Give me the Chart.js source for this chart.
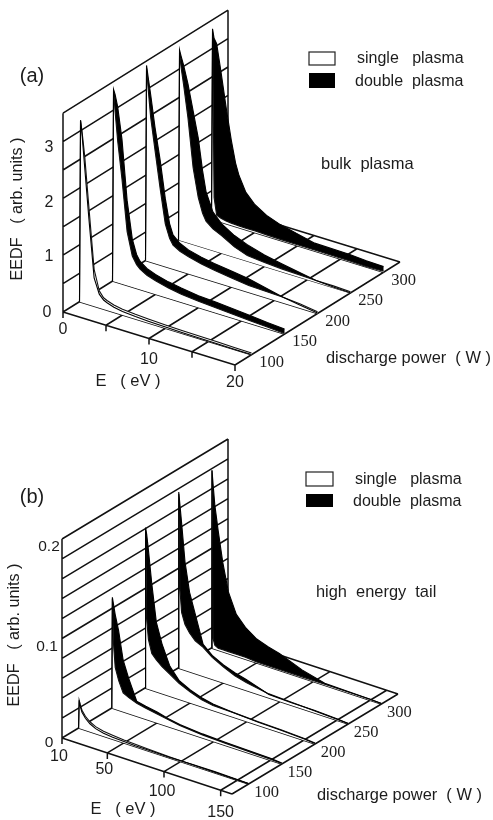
<!DOCTYPE html>
<html><head><meta charset="utf-8">
<style>html,body{margin:0;padding:0;background:#fff}canvas{display:block}</style>
<script src="https://cdn.jsdelivr.net/npm/chart.js@4"></script>
</head><body><canvas id="c" width="493" height="820"></canvas>
<script>
// ---------- data: panel (a) bulk plasma ----------
const powers=[100,150,200,250,300];
const energyA=[0,.12,.3,.6,1.1,1.7,2.3,2.8,3.2,4,5,6.5,8,10,12,16,18,20];
const singleA100=[0,3.2,3.0,2.6,1.7,.65,.3,.2,.17,.13,.1,.082,.07,.058,.05,.04,.035,.03];
const doubleA100=[0,3.2,2.95,2.4,1.5,.5,.24,.16,.13,.09,.06,.042,.03,.02,.012,.005,.003,.002];
const singleA150=[0,3.36,3.0,2.5,1.85,.95,.55,.42,.36,.29,.24,.18,.14,.11,.09,.05,.03,.01];
const doubleA150=[0,3.38,3.3,3.1,2.55,1.5,.85,.6,.5,.41,.35,.29,.25,.21,.19,.14,.11,.09];
const singleA200=[0,3.4,3.05,2.55,2.0,1.35,.75,.52,.42,.35,.3,.24,.2,.16,.12,.1,.075,.03];
const doubleA200=[0,3.44,3.25,2.95,2.4,1.85,1.2,.78,.6,.49,.42,.36,.32,.28,.24,.1,.05,.01];
const singleA250=[0,3.3,3.05,2.75,2.2,1.35,.85,.6,.48,.38,.31,.18,.1,.07,.05,.03,.03,.02];
const doubleA250=[0,3.35,3.25,3.1,2.8,2.35,1.9,1.35,1.0,.68,.52,.38,.29,.2,.14,.03,.01,.003];
const singleA300=[0,3.33,.4,.1,.07,.05,.04,.035,.03,.03,.03,.025,.02,.02,.02,.015,.01,.02];
const doubleA300=[0,3.36,3.2,3.12,2.65,2.05,1.5,1.12,.92,.66,.5,.36,.28,.21,.14,.13,.11,.1];
// ---------- data: panel (b) high energy tail ----------
const energyB=[10,10.5,11.5,13,16,20,25,32,40,50,60,70,90,110,130,150,160];
const singleB100=[0,.028,.024,.019,.014,.010,.007,.005,.004,.003,.0025,.002,.0012,.0008,.0005,.0003,.0002];
const doubleB100=[0,.028,.022,.017,.012,.008,.005,.003,.002,.0015,.001,.0008,.0006,.001,.0012,.0008,.0004];
const singleB150=[0,.11,.065,.042,.03,.019,.016,.013,.011,.009,.007,.005,.003,.002,.0015,.001,.0005];
const doubleB150=[0,.1115,.105,.095,.08,.052,.035,.015,.013,.011,.008,.006,.004,.003,.0025,.002,.001];
const singleB200=[0,.16,.07,.05,.037,.032,.027,.022,.016,.011,.007,.005,.0045,.0035,.003,.002,.001];
const doubleB200=[0,.1615,.155,.14,.107,.07,.05,.03,.019,.013,.009,.0065,.0045,.003,.0025,.0015,.0005];
const singleB250=[0,.175,.08,.057,.046,.039,.033,.029,.022,.016,.011,.008,.004,.003,.002,.001,.0005];
const doubleB250=[0,.177,.165,.147,.109,.08,.06,.032,.024,.018,.014,.011,.0035,.0025,.0025,.0015,.0005];
const singleB300=[0,.178,.01,.004,.002,.002,.002,.002,.002,.001,.001,.001,.001,.001,.001,.001,.0005];
const doubleB300=[0,.179,.165,.145,.12,.09,.062,.042,.032,.024,.02,.017,.008,.002,.0015,.001,.0005];
// ---------- tick labels ----------
const eTicksA=[0,10,20], eGridA=[5,10,15], eMarksA=[0,5,10,15,20];
const fTicksA=[0,1,2,3], fGridA=[0,.5,1,1.5,2,2.5,3,3.5];
const eTicksB=[10,50,100,150], eGridB=[50,100,150,160], eMarksB=[10,50,100,150];
const fTicksB=['0','0.1','0.2'], fGridB=[0,.02,.04,.06,.08,.1,.12,.14,.16,.18,.2];
const legendLabels=['single   plasma','double  plasma'];

// ---------- 3-D projection of each panel onto the page scale ----------
const panelA={x0:63,y0:312,Emin:0,Emax:20,Pmin:75,Pmax:325,exE:172/20,eyE:53/20,exP:165/250,eyP:-103/250,v:56.8,
  series:[[singleA100,doubleA100],[singleA150,doubleA150],[singleA200,doubleA200],[singleA250,doubleA250],[singleA300,doubleA300]],
  energy:energyA,eGrid:eGridA,eMarks:eMarksA,fGrid:fGridA};
const panelB={x0:62,y0:738,Emin:10,Emax:160,Pmin:75,Pmax:325,exE:170/150,eyE:56/150,exP:166/250,eyP:-100/250,v:995,
  series:[[singleB100,doubleB100],[singleB150,doubleB150],[singleB200,doubleB200],[singleB250,doubleB250],[singleB300,doubleB300]],
  energy:energyB,eGrid:eGridB,eMarks:eMarksB,fGrid:fGridB};
function pr(p,E,P,f){return {x:p.x0+p.exE*(E-p.Emin)+p.exP*(P-p.Pmin),y:p.y0+p.eyE*(E-p.Emin)+p.eyP*(P-p.Pmin)-p.v*f};}

const INK='#111';
const gap={x:NaN,y:NaN};
function gridPoints(p){
  const a=[];
  const seg=(u,v)=>{a.push(u,v,gap);};
  for(const f of p.fGrid) seg(pr(p,p.Emin,p.Pmin,f),pr(p,p.Emin,p.Pmax,f));
  const top=p.fGrid[p.fGrid.length-1];
  seg(pr(p,p.Emin,p.Pmin,0),pr(p,p.Emin,p.Pmin,top));
  seg(pr(p,p.Emin,p.Pmax,0),pr(p,p.Emin,p.Pmax,top));
  for(const P of [p.Pmin,...powers,p.Pmax]) seg(pr(p,p.Emin,P,0),pr(p,p.Emax,P,0));
  for(const E of [...p.eGrid,p.Emax]) seg(pr(p,E,p.Pmin,0),pr(p,E,p.Pmax,0));
  for(const E of p.eMarks){const b=pr(p,E,p.Pmin,0);seg(b,{x:b.x,y:b.y+6});}
  return a;
}
function curveDatasets(p){
  const out=[];
  for(let k=powers.length-1;k>=0;k--){
    const P=powers[k],[s,d]=p.series[k],En=p.energy;
    const upper=En.map((E,i)=>pr(p,E,P,Math.max(s[i],d[i])));
    const floor=[pr(p,p.Emax,P,0),pr(p,p.Emin,P,0)];
    const lowerS=En.map((E,i)=>pr(p,E,P,s[i]));
    const lowerD=En.map((E,i)=>pr(p,E,P,d[i]));
    out.push({label:'under '+P,data:[...upper,...floor],showLine:true,fill:'shape',backgroundColor:'#fff',borderWidth:0,pointRadius:0});
    out.push({label:'band '+P,data:[...upper,...lowerS.slice().reverse()],showLine:true,fill:'shape',backgroundColor:'#000',borderWidth:0,pointRadius:0});
    out.push({label:'single '+P,data:lowerS,showLine:true,fill:false,borderColor:INK,borderWidth:1.1,pointRadius:0});
    out.push({label:'double '+P,data:lowerD,showLine:true,fill:false,borderColor:'#000',borderWidth:1.1,pointRadius:0});
  }
  return out;
}
const paint=[
  {label:'grid a',data:gridPoints(panelA),showLine:true,fill:false,borderColor:INK,borderWidth:1.5,pointRadius:0},
  {label:'grid b',data:gridPoints(panelB),showLine:true,fill:false,borderColor:INK,borderWidth:1.5,pointRadius:0},
  ...curveDatasets(panelA),...curveDatasets(panelB)
];
paint.forEach((d,i)=>{d.order=paint.length-i;d.spanGaps=false;d.tension=0;});

const SANS='"Liberation Sans",Arial,sans-serif', SERIF='"Liberation Serif",serif';
const textPlugin={id:'texts',afterDraw(chart){
  const {ctx,scales:{x,y}}=chart;
  const T=(s,px,py,size,font,rot,align)=>{
    ctx.save();ctx.fillStyle='#1c1c1c';ctx.textAlign=align||'center';ctx.textBaseline='middle';
    ctx.font=size+'px '+(font||SANS);
    ctx.translate(x.getPixelForValue(px),y.getPixelForValue(py));
    if(rot)ctx.rotate(rot);
    ctx.fillText(s,0,0);ctx.restore();
  };
  const R=(x1,y1,x2,y2,fillIt)=>{
    ctx.save();const a=x.getPixelForValue(x1),b=y.getPixelForValue(y1),w=x.getPixelForValue(x2)-a,h=y.getPixelForValue(y2)-b;
    if(fillIt){ctx.fillStyle='#000';ctx.fillRect(a,b,w,h);}else{ctx.strokeStyle='#222';ctx.lineWidth=1.2;ctx.strokeRect(a,b,w,h);}
    ctx.restore();
  };
  // panel a
  T('(a)',32,76,20);
  R(309,52,335,65,false);R(309,73,335,88,true);
  T(legendLabels[0],357,59,16,SANS,0,'left');T(legendLabels[1],355,82,16,SANS,0,'left');
  T('bulk  plasma',321,164,16.5,SANS,0,'left');
  T('discharge power  ( W )',326,358,16.4,SANS,0,'left');
  T('E   ( eV )',128,381,16.5);
  T('EEDF   ( arb. units )',18,209,16.2,SANS,-Math.PI/2);
  const eyOffA=[18,21.5,18];
  eTicksA.forEach((E,i)=>{const b=pr(panelA,E,panelA.Pmin,0);T(String(E),b.x,b.y+eyOffA[i],16);});
  const fyA=[313,257,203,148],fxA=[47,49,49,49];
  fTicksA.forEach((f,i)=>T(String(f),fxA[i],fyA[i],16));
  powers.forEach(P=>{const b=pr(panelA,panelA.Emax,P,0);T(String(P),b.x+20,b.y+8,16.5,SERIF);});
  // panel b
  T('(b)',32,497,20);
  R(306,472,333,486,false);R(306,494,333,507,true);
  T(legendLabels[0],355,480,16,SANS,0,'left');T(legendLabels[1],353,502,16,SANS,0,'left');
  T('high  energy  tail',316,592,16.4,SANS,0,'left');
  T('discharge power  ( W )',317,795,16.4,SANS,0,'left');
  T('E   ( eV )',123,809,16.5);
  T('EEDF   ( arb. units )',15,635,16.2,SANS,-Math.PI/2);
  const exOffB=[-3,-3,-2,0],eyOffB=[19,17,20,22];
  eTicksB.forEach((E,i)=>{const b=pr(panelB,E,panelB.Pmin,0);T(String(E),b.x+exOffB[i],b.y+eyOffB[i],16);});
  const fyB=[743,647,547],fxB=[49,47,49];
  fTicksB.forEach((s,i)=>T(s,fxB[i],fyB[i],15.5));
  powers.forEach(P=>{const b=pr(panelB,panelB.Emax,P,0);T(String(P),b.x+18,b.y+8.5,16.5,SERIF);});
}};

new Chart(document.getElementById('c'),{
  type:'scatter',
  data:{datasets:paint},
  plugins:[textPlugin],
  options:{responsive:false,animation:false,devicePixelRatio:1,
    layout:{padding:0},
    plugins:{legend:{display:false},title:{display:false},tooltip:{enabled:false},filler:{propagate:false}},
    scales:{
      x:{type:'linear',min:0,max:493,display:false},
      y:{type:'linear',min:0,max:820,reverse:true,display:false}
    }
  }
});
</script></body></html>
